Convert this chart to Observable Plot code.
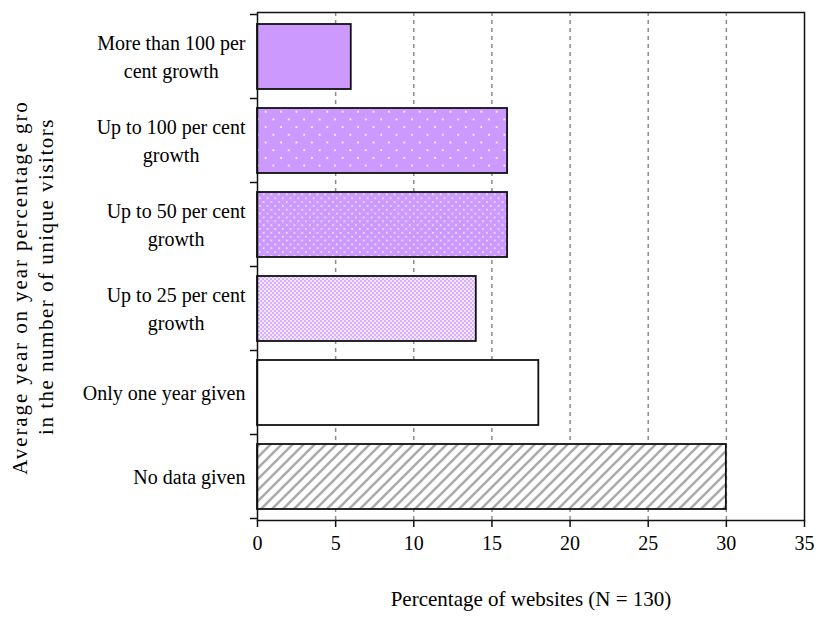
<!DOCTYPE html>
<html>
<head>
<meta charset="utf-8">
<script src="https://cdn.jsdelivr.net/npm/d3@7"></script>
<script src="https://cdn.jsdelivr.net/npm/@observablehq/plot@0.6"></script>
<style>
  html, body { margin: 0; padding: 0; background: #fff; }
  svg { display: block; }
</style>
</head>
<body>
<script>
// ---- data ----
const categories = [
  "More than 100 per cent growth",
  "Up to 100 per cent growth",
  "Up to 50 per cent growth",
  "Up to 25 per cent growth",
  "Only one year given",
  "No data given"
];
const labels = [
  "More than 100 per\ncent growth",
  "Up to 100 per cent\ngrowth",
  "Up to 50 per cent\ngrowth",
  "Up to 25 per cent\ngrowth",
  "Only one year given",
  "No data given"
];
const values = [6, 16, 16, 14, 18, 30];
const xTicks = [0, 5, 10, 15, 20, 25, 30, 35];
const gridTicks = [5, 10, 15, 20, 25, 30];
const xTitle = "Percentage of websites (N = 130)";
const yTitle = "Average year on year percentage growth\nin the number of unique visitors";

// ---- styles ----
const fills = ["#CC99FF", "url(#dotsSparse)", "url(#dotsDense)", "url(#checker)", "#FFFFFF", "url(#hatch)"];
const FONT = "Liberation Serif";

const data = categories.map((c, i) => ({category: c, value: values[i], label: labels[i]}));

const plot = Plot.plot({
  width: 818,
  height: 619,
  marginLeft: 257,
  marginRight: 14,
  marginTop: 12,
  marginBottom: 99,
  style: {fontFamily: FONT, fontSize: "20px", color: "black", background: "white"},
  x: {domain: [0, 35]},
  y: {domain: categories, axis: null, paddingInner: 0.23, paddingOuter: 0.115},
  color: {type: "ordinal", domain: categories, range: fills},
  marks: [
    Plot.gridX({ticks: gridTicks, stroke: "#8c8c8c", strokeOpacity: 1, strokeWidth: 1.5, strokeDasharray: "4,4"}),
    Plot.barX(data, {x: "value", y: "category", fill: "category", stroke: "#111", strokeWidth: 1.8}),
    Plot.frame({stroke: "#111", strokeWidth: 1.5}),
    Plot.axisX({ticks: xTicks, tickSize: 7, tickPadding: 8, fontSize: 20, label: null, stroke: "#111", strokeWidth: 1.5}),
    Plot.text(data, {y: "category", text: "label", frameAnchor: "left", textAnchor: "end", dx: -12, dy: -2, lineHeight: 1.4, fontSize: 20, fill: "black", ariaDescription: "ylabels"}),
    Plot.text([xTitle], {text: d => d, frameAnchor: "bottom", dy: 85, fontSize: 21, fill: "black", ariaDescription: "xtitle"}),
    Plot.text([yTitle], {text: d => d, frameAnchor: "left", textAnchor: "middle", rotate: -90, dx: -226, dy: 10, lineHeight: 1.24, fontSize: 21, fill: "black", ariaDescription: "ytitle"})
  ]
});

document.body.append(plot);

// ---- patterns ----
const ns = "http://www.w3.org/2000/svg";
const svg = d3.select(plot);
const defs = svg.insert("defs", ":first-child");

const p1 = defs.append("pattern").attr("id", "dotsSparse").attr("patternUnits", "userSpaceOnUse")
  .attr("width", 15.4).attr("height", 15.4);
p1.append("rect").attr("width", 15.4).attr("height", 15.4).attr("fill", "#CC99FF");
p1.append("rect").attr("x", 3).attr("y", 3).attr("width", 1.8).attr("height", 1.8).attr("fill", "#fff").attr("fill-opacity", 0.9);
p1.append("rect").attr("x", 10.7).attr("y", 10.7).attr("width", 1.8).attr("height", 1.8).attr("fill", "#fff").attr("fill-opacity", 0.9);

const p2 = defs.append("pattern").attr("id", "dotsDense").attr("patternUnits", "userSpaceOnUse")
  .attr("width", 7.7).attr("height", 7.7);
p2.append("rect").attr("width", 7.7).attr("height", 7.7).attr("fill", "#CC99FF");
p2.append("rect").attr("x", 1).attr("y", 1).attr("width", 1.6).attr("height", 1.6).attr("fill", "#fff").attr("fill-opacity", 0.8);
p2.append("rect").attr("x", 4.85).attr("y", 4.85).attr("width", 1.6).attr("height", 1.6).attr("fill", "#fff").attr("fill-opacity", 0.8);

const p3 = defs.append("pattern").attr("id", "checker").attr("patternUnits", "userSpaceOnUse")
  .attr("width", 4).attr("height", 4);
p3.append("rect").attr("width", 4).attr("height", 4).attr("fill", "#F2E6FF");
p3.append("rect").attr("x", 0).attr("y", 0).attr("width", 2).attr("height", 2).attr("fill", "#D7B0FF");
p3.append("rect").attr("x", 2).attr("y", 2).attr("width", 2).attr("height", 2).attr("fill", "#D7B0FF");

const p4 = defs.append("pattern").attr("id", "hatch").attr("patternUnits", "userSpaceOnUse")
  .attr("width", 11).attr("height", 11);
p4.append("rect").attr("width", 11).attr("height", 11).attr("fill", "#fff");
p4.append("path").attr("d", "M-2,2 L2,-2 M0,11 L11,0 M9,13 L13,9")
  .attr("stroke", "#ababab").attr("stroke-width", 2.6);

// clip for the y title
defs.append("clipPath").attr("id", "ytclip").attr("clipPathUnits", "userSpaceOnUse")
  .append("rect").attr("x", 0).attr("y", 101).attr("width", 200).attr("height", 518);

// ---- y title: letter spacing + clip ----
const yt = plot.querySelector('g[aria-description="ytitle"]');
if (yt) {
  yt.setAttribute("letter-spacing", "1.5px");
  yt.style.letterSpacing = "1.5px";
  const spans = yt.querySelectorAll("tspan");
  if (spans.length > 1) {
    spans[0].style.letterSpacing = "1.9px";
    spans[0].setAttribute("x", 7.6);
  }
  const wrap = document.createElementNS(ns, "g");
  yt.parentNode.insertBefore(wrap, yt);
  wrap.appendChild(yt);
  wrap.setAttribute("clip-path", "url(#ytclip)");
}

// ---- centre multi-line category labels within their block ----
plot.querySelectorAll('g[aria-description="ylabels"] text').forEach(t => {
  const spans = [...t.querySelectorAll("tspan")];
  if (spans.length < 2) return;
  const w = Math.max(...spans.map(s => s.getComputedTextLength()));
  t.setAttribute("text-anchor", "middle");
  spans.forEach(s => s.setAttribute("x", -w / 2));
});

// ---- tick marks at category boundaries on the left axis ----
const ys = plot.scale("y");
const xs = plot.scale("x");
const x0 = xs.apply(0);
const gap = (ys.step - ys.bandwidth) / 2;
const bounds = categories.map(c => ys.apply(c) - gap);
bounds.push(ys.apply(categories[categories.length - 1]) + ys.bandwidth + gap);
svg.append("g").attr("aria-label", "ycat-ticks")
  .selectAll("line").data(bounds).join("line")
  .attr("x1", x0 - 7).attr("x2", x0)
  .attr("y1", d => d).attr("y2", d => d)
  .attr("stroke", "#111").attr("stroke-width", 1.5);
</script>
</body>
</html>
